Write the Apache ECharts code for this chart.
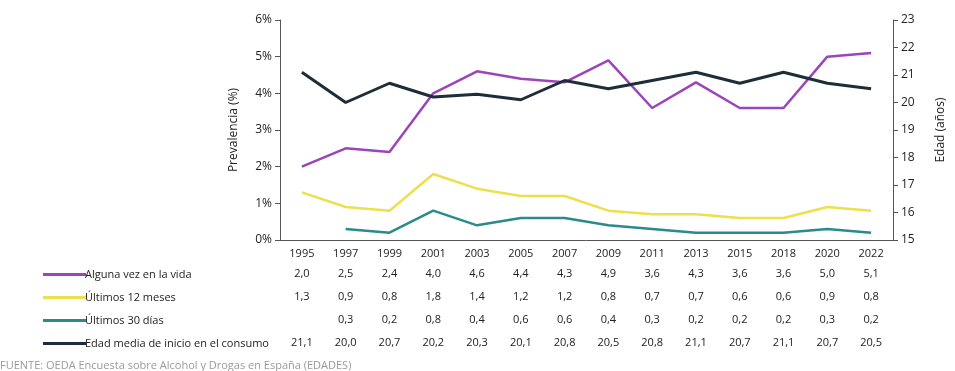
<!DOCTYPE html>
<html><head><meta charset="utf-8">
<script src="https://cdn.jsdelivr.net/npm/echarts@6/dist/echarts.min.js"></script>
<style>html,body{margin:0;padding:0;background:#fff}#c{width:955px;height:371px}</style>
</head><body><div id="c"></div>
<script>
var years = ['1995','1997','1999','2001','2003','2005','2007','2009','2011','2013','2015','2018','2020','2022'];
var alguna = [2.0,2.5,2.4,4.0,4.6,4.4,4.3,4.9,3.6,4.3,3.6,3.6,5.0,5.1];
var ultimos12 = [1.3,0.9,0.8,1.8,1.4,1.2,1.2,0.8,0.7,0.7,0.6,0.6,0.9,0.8];
var ultimos30 = [null,0.3,0.2,0.8,0.4,0.6,0.6,0.4,0.3,0.2,0.2,0.2,0.3,0.2];
var edad = [21.1,20.0,20.7,20.2,20.3,20.1,20.8,20.5,20.8,21.1,20.7,21.1,20.7,20.5];
var names = ['Alguna vez en la vida','Últimos 12 meses','Últimos 30 días','Edad media de inicio en el consumo'];
var colors = ['#9a45b8','#ece04c','#2a8a8c','#1e2d3a'];
var FONT = 'Open Sans';
function fmt(v){ return v == null ? '' : v.toFixed(1).replace('.', ','); }
var tableRows = [alguna, ultimos12, ultimos30, edad];

var xAxes = [{
  type:'category', data: years, gridIndex:0, position:'bottom', boundaryGap:true,
  axisLine:{show:true, lineStyle:{color:'#555', width:1}},
  axisTick:{show:false},
  axisLabel:{color:'#222', fontFamily:FONT, fontSize:11, margin:8}
}];
tableRows.forEach(function(row, i){
  xAxes.push({
    type:'category', data: row.map(fmt), gridIndex:0, position:'bottom', offset: 20 + i*23,
    boundaryGap:true, axisLine:{show:false}, axisTick:{show:false},
    axisLabel:{color:'#222', fontFamily:FONT, fontSize:11, margin:8, interval:0}
  });
});

var chart = echarts.init(document.getElementById('c'));
chart.setOption({
  backgroundColor:'#fff',
  animation:false,
  grid:{left:280, right:55, top:20, bottom:131, containLabel:false},
  legend:{
    orient:'vertical', left:38, top:264, itemWidth:43, itemHeight:14, itemGap:12,
    data: names, icon:'path://M0,0 L43,0 L43,3 L0,3 Z', symbolKeepAspect:true,
    textStyle:{color:'#222', fontFamily:FONT, fontSize:11, padding:[0,0,0,-6]}
  },
  xAxis: xAxes,
  yAxis:[{
    type:'value', min:0, max:6, interval:1, position:'left',
    name:'Prevalencia (%)', nameLocation:'middle', nameGap:40, nameRotate:90,
    nameTextStyle:{color:'#222', fontFamily:FONT, fontSize:12},
    axisLine:{show:true, lineStyle:{color:'#555'}},
    axisTick:{show:true, length:5, lineStyle:{color:'#555'}},
    axisLabel:{color:'#222', fontFamily:FONT, fontSize:12, margin:8, formatter:'{value}%'},
    splitLine:{show:false}
  },{
    type:'value', min:15, max:23, interval:1, position:'right',
    name:'Edad (años)', nameLocation:'middle', nameGap:42, nameRotate:90,
    nameTextStyle:{color:'#222', fontFamily:FONT, fontSize:12},
    axisLine:{show:true, lineStyle:{color:'#555'}},
    axisTick:{show:true, length:5, lineStyle:{color:'#555'}},
    axisLabel:{color:'#222', fontFamily:FONT, fontSize:12, margin:8},
    splitLine:{show:false}
  }],
  series:[
    {name:names[0], type:'line', data:alguna, yAxisIndex:0, xAxisIndex:0, symbol:'none', lineStyle:{width:2.5, color:colors[0]}, itemStyle:{color:colors[0]}},
    {name:names[1], type:'line', data:ultimos12, yAxisIndex:0, xAxisIndex:0, symbol:'none', lineStyle:{width:2.5, color:colors[1]}, itemStyle:{color:colors[1]}},
    {name:names[2], type:'line', data:ultimos30, yAxisIndex:0, xAxisIndex:0, symbol:'none', connectNulls:false, lineStyle:{width:2.5, color:colors[2]}, itemStyle:{color:colors[2]}},
    {name:names[3], type:'line', data:edad, yAxisIndex:1, xAxisIndex:0, symbol:'none', lineStyle:{width:3, color:colors[3]}, itemStyle:{color:colors[3]}}
  ],
  graphic:[{
    type:'text', left:0, top:360,
    style:{text:'FUENTE: OEDA Encuesta sobre Alcohol y Drogas en España (EDADES)', fill:'#9a9a9a', font:'11px "Open Sans"'}
  }]
});
</script></body></html>
